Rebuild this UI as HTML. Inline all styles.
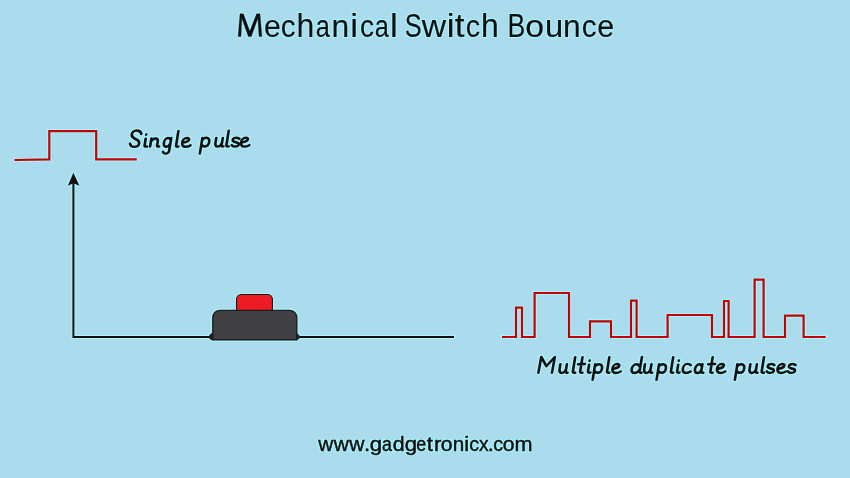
<!DOCTYPE html>
<html><head><meta charset="utf-8">
<style>
html,body{margin:0;padding:0;background:#ABDCEE;}
body{width:850px;height:478px;overflow:hidden;position:relative;}
svg{position:absolute;left:0;top:0;display:block;}
</style></head>
<body>
<svg width="850" height="478" viewBox="0 0 850 478">
<defs><filter id="halo" x="-5%" y="-20%" width="110%" height="140%" color-interpolation-filters="sRGB"><feMorphology in="SourceAlpha" operator="dilate" radius="1.2" result="d"/><feGaussianBlur in="d" stdDeviation="0.35" result="b"/><feFlood flood-color="#A8F8FF" flood-opacity="0.9"/><feComposite in2="b" operator="in" result="h"/><feMerge><feMergeNode in="h"/><feMergeNode in="SourceGraphic"/></feMerge></filter></defs>
<rect width="850" height="478" fill="#ABDCEE"/>
<g filter="url(#halo)">
<!-- title -->
<g font-family="Liberation Sans" font-size="32.5" fill="#0E0E0E" stroke="#0E0E0E" stroke-width="0.15">
<path d="M238.1 36.6 L240.0 13.8 L243.4 13.8 L249.8 31.2 L256.6 13.8 L260.0 13.8 L261.9 36.6 L259.0 36.6 L257.9 18.2 L251.3 36.6 L248.3 36.6 L241.8 18.2 L241.0 36.6 Z" stroke-width="0.3"/>
<text transform="translate(272.40 36.6) scale(0.931 0.95)" x="-9.01" y="0">e</text>
<text transform="translate(288.50 36.6) scale(0.913 0.95)" x="-8.39" y="0">c</text>
<text transform="translate(305.55 36.6) scale(0.985 1)" x="-9.11" y="0">h</text>
<text transform="translate(323.35 36.6) scale(0.780 0.95)" x="-9.73" y="0">a</text>
<text transform="translate(340.35 36.6) scale(0.978 0.95)" x="-9.06" y="0">n</text>
<text transform="translate(354.15 36.6) scale(1.080 1)" x="-3.60" y="0">i</text>
<text transform="translate(367.35 36.6) scale(0.864 0.95)" x="-8.39" y="0">c</text>
<text transform="translate(382.25 36.6) scale(0.780 0.95)" x="-9.73" y="0">a</text>
<text transform="translate(393.80 36.6) scale(1.080 1)" x="-3.62" y="0">l</text>
<text transform="translate(413.10 36.6) scale(0.780 1)" x="-10.83" y="0">S</text>
<text transform="translate(433.85 36.6) scale(1.038 0.95)" x="-11.75" y="0">w</text>
<text transform="translate(450.70 36.6) scale(1.080 1)" x="-3.60" y="0">i</text>
<text transform="translate(459.80 36.6) scale(1.080 1)" x="-4.64" y="0">t</text>
<text transform="translate(473.20 36.6) scale(0.885 0.95)" x="-8.39" y="0">c</text>
<text transform="translate(490.05 36.6) scale(0.985 1)" x="-9.11" y="0">h</text>
<text transform="translate(516.70 36.6) scale(0.821 1)" x="-11.31" y="0">B</text>
<text transform="translate(534.60 36.6) scale(1.043 0.95)" x="-9.04" y="0">o</text>
<text transform="translate(554.15 36.6) scale(1.007 0.95)" x="-9.01" y="0">u</text>
<text transform="translate(571.95 36.6) scale(0.978 0.95)" x="-9.06" y="0">n</text>
<text transform="translate(589.40 36.6) scale(0.913 0.95)" x="-8.39" y="0">c</text>
<text transform="translate(605.75 36.6) scale(0.938 0.95)" x="-9.01" y="0">e</text>
</g>
<!-- single pulse -->
<path d="M14.5 160 L49.3 159.3 L49.3 131.1 L96.2 131.1 L96.2 159.3 L136.8 159.3" fill="none" stroke="#C40000" stroke-width="2.2"/>
<!-- axis -->
<path d="M73.4 337 L73.4 182 M72.4 337 L454 337" fill="none" stroke="#140E0E" stroke-width="2"/>
<path d="M73.4 172.8 L79.4 185.8 L73.4 183.2 L67.8 185.8 Z" fill="#140E0E"/>
<!-- button -->
<rect x="236.5" y="294.5" width="35.9" height="22" rx="4.6" fill="#ED1C24" stroke="#141414" stroke-width="1.1"/>
<path d="M212.8 339.7 L212.8 318.4 Q212.8 310.4 220.8 310.4 L288.8 310.4 Q296.8 310.4 296.8 318.4 L296.8 339.7 Z" fill="#414042" stroke="#1E1A1B" stroke-width="1.4"/>
<path d="M213.2 332.8 C210.6 333.3 208.9 335 208.9 336.8 C208.9 338.8 210.6 340.4 213.2 340.4 Z" fill="#231F20"/>
<path d="M296.4 332.6 C298 334 299.8 335.5 300.2 336.8 C299.8 338.3 298.2 340 296.4 340.4 Z" fill="#231F20"/>
<!-- multi pulse -->
<path d="M502 337 L516 337 L516 307.6 L522 307.6 L522 337 L534.6 337 L534.6 293 L569 293 L569 337 L590 337 L590 321.4 L611 321.4 L611 337 L631 337 L631 300.6 L636.6 300.6 L636.6 337 L667.6 337 L667.6 315 L712 315 L712 337 L724 337 L724 301 L728.6 301 L728.6 337 L754.6 337 L754.6 279.6 L763.6 279.6 L763.6 337 L785 337 L785 315.6 L803.6 315.6 L803.6 337 L825.6 337" fill="none" stroke="#C40000" stroke-width="2.2"/>
<!-- labels -->
<g fill="none" stroke="#0F0F0F" stroke-width="2.6" stroke-linecap="round" stroke-linejoin="round">
<path transform="translate(129.5 146.6) skewX(-9.1) scale(1 0.95)" d="M9.8 -13.3 C9 -15.6 7 -16.9 4.6 -16.9 C2 -16.9 0.2 -15 0.3 -12.6 C0.4 -10 2.8 -9 4.8 -8 C7.5 -6.8 9.2 -5.5 9.1 -3.3 C9 -0.9 7 0.3 4.6 0.3 C2.3 0.3 0.7 -1.3 0 -3.2"/>
<path transform="translate(144.4 146.6) skewX(-9.1) scale(1 0.95)" d="M-0.1 -12.8 L-0.05 -12.6 M0 -8.4 L0 -1.5 C0 -0.2 0.8 0.3 2.6 -0.1"/>
<path transform="translate(150.1 146.6) skewX(-9.1) scale(1 0.95)" d="M0 -8.6 L0 0 M0 -5 C0.8 -7.3 2.3 -8.6 4 -8.6 C6 -8.6 6.9 -7.2 6.9 -5 L6.8 -1.5 C6.8 -0.2 7.6 0.2 9 -0.1"/>
<path transform="translate(163.3 146.6) skewX(-9.1) scale(1 0.95)" d="M6.2 -7.3 C5.6 -8.4 4.5 -9 3.3 -9 C1.2 -9 0 -6.5 0 -4 C0 -1.6 1.1 0.2 2.8 0.2 C4.5 0.2 5.8 -1.3 6.4 -3.2 M6.6 -9 L6.5 4.5 C6.5 6.4 5.3 7.4 3.6 7.4 C2.2 7.4 1 6.6 0.4 5.4"/>
<path transform="translate(175.9 146.6) skewX(-9.1) scale(1 0.95)" d="M0 -16.4 L0 -1.5 C0 -0.2 0.8 0.3 2.4 0"/>
<path transform="translate(181.6 146.6) skewX(-9.1) scale(1 0.95)" d="M0.2 -3.9 C2.6 -4.3 5 -5 6.1 -6.4 C7 -7.6 5.8 -9.1 3.8 -9.1 C1.5 -9.1 0 -6.8 0 -4.3 C0 -1.5 1.5 0.2 3.9 0.2 C5.7 0.2 7.4 -0.4 8.7 -1.3"/>
<path transform="translate(201.0 146.4) skewX(-9.1) scale(1 0.95)" d="M0 -8.9 L0 7.4 M0.2 -6.5 C0.9 -8.2 2.4 -9 4 -9 C6.3 -9 7.5 -7 7.5 -4.5 C7.5 -1.8 6 0 3.9 0 C2.4 0 1.1 -0.6 0.3 -1.8"/>
<path transform="translate(214.9 146.4) skewX(-9.1) scale(1 0.95)" d="M0 -8.9 L0 -3.5 C0 -1.2 1.1 0.2 2.8 0.2 C4.6 0.2 6 -1.5 6.4 -3.8 M6.5 -8.9 L6.5 -1.5 C6.5 -0.2 7.2 0.3 8.5 0"/>
<path transform="translate(226.2 146.4) skewX(-9.1) scale(1 0.95)" d="M0 -16.4 L0 -1.5 C0 -0.2 0.8 0.3 2.4 0"/>
<path transform="translate(231.5 146.4) skewX(-9.1) scale(1 0.95)" d="M6.7 -8.0 C5.8 -9 4.5 -9.3 3.2 -9.2 C1.2 -9.1 0 -8 0.2 -6.5 C0.5 -5 2.6 -4.6 4.5 -4.1 C6.3 -3.6 7.2 -2.8 7.0 -1.6 C6.8 -0.2 5.2 0.2 3.5 0.2 C1.9 0.2 0.6 -0.5 0 -1.4"/>
<path transform="translate(240.4 146.4) skewX(-9.1) scale(1 0.95)" d="M0.2 -3.9 C2.6 -4.3 5 -5 6.1 -6.4 C7 -7.6 5.8 -9.1 3.8 -9.1 C1.5 -9.1 0 -6.8 0 -4.3 C0 -1.5 1.5 0.2 3.9 0.2 C5.7 0.2 7.4 -0.4 8.7 -1.3"/>
<path transform="translate(538.4 372.7) skewX(-9.1) scale(1 0.95)" d="M0 0 L0.3 -16.6 L7.0 -6.9 L13.9 -16.6 L13.6 0"/>
<path transform="translate(559.0 372.7) skewX(-9.1) scale(1 0.95)" d="M0 -8.9 L0 -3.5 C0 -1.2 1.1 0.2 2.8 0.2 C4.6 0.2 6 -1.5 6.4 -3.8 M6.5 -8.9 L6.5 -1.5 C6.5 -0.2 7.2 0.3 8.5 0"/>
<path transform="translate(572.7 372.7) skewX(-9.1) scale(1 0.95)" d="M0 -16.4 L0 -1.5 C0 -0.2 0.8 0.3 2.4 0"/>
<path transform="translate(576.1 372.7) skewX(-9.1) scale(1 0.95)" d="M3.9 -16.4 L3.9 -1.5 C3.9 -0.2 4.7 0.3 6.3 0 M0.6 -9 L7.4 -9.2"/>
<path transform="translate(587.8 372.7) skewX(-9.1) scale(1 0.95)" d="M-0.1 -12.8 L-0.05 -12.6 M0 -8.4 L0 -1.5 C0 -0.2 0.8 0.3 2.6 -0.1"/>
<path transform="translate(593.8 372.7) skewX(-9.1) scale(1 0.95)" d="M0 -8.9 L0 7.4 M0.2 -6.5 C0.9 -8.2 2.4 -9 4 -9 C6.3 -9 7.5 -7 7.5 -4.5 C7.5 -1.8 6 0 3.9 0 C2.4 0 1.1 -0.6 0.3 -1.8"/>
<path transform="translate(606.85 372.7) skewX(-9.1) scale(1 0.95)" d="M0 -16.4 L0 -1.5 C0 -0.2 0.8 0.3 2.4 0"/>
<path transform="translate(611.8 372.7) skewX(-9.1) scale(1 0.95)" d="M0.2 -3.9 C2.6 -4.3 5 -5 6.1 -6.4 C7 -7.6 5.8 -9.1 3.8 -9.1 C1.5 -9.1 0 -6.8 0 -4.3 C0 -1.5 1.5 0.2 3.9 0.2 C5.7 0.2 7.4 -0.4 8.7 -1.3"/>
<path transform="translate(631.1 372.7) skewX(-9.1) scale(1 0.95)" d="M7.0 -7.2 C6.3 -8.3 5.1 -8.8 3.9 -8.8 C1.6 -8.8 0 -6.3 0 -3.8 C0 -1.4 1.3 0.3 3.4 0.3 C5.4 0.3 7.2 -1.3 8.1 -3.4 M8.3 -16.6 L8.2 -1.5 C8.2 -0.2 9.0 0.3 10.4 0"/>
<path transform="translate(643.6 372.7) skewX(-9.1) scale(1 0.95)" d="M0 -8.9 L0 -3.5 C0 -1.2 1.1 0.2 2.8 0.2 C4.6 0.2 6 -1.5 6.4 -3.8 M6.5 -8.9 L6.5 -1.5 C6.5 -0.2 7.2 0.3 8.5 0"/>
<path transform="translate(657.7 372.7) skewX(-9.1) scale(1 0.95)" d="M0 -8.9 L0 7.4 M0.2 -6.5 C0.9 -8.2 2.4 -9 4 -9 C6.3 -9 7.5 -7 7.5 -4.5 C7.5 -1.8 6 0 3.9 0 C2.4 0 1.1 -0.6 0.3 -1.8"/>
<path transform="translate(670.7 372.7) skewX(-9.1) scale(1 0.95)" d="M0 -16.4 L0 -1.5 C0 -0.2 0.8 0.3 2.4 0"/>
<path transform="translate(676.9 372.7) skewX(-9.1) scale(1 0.95)" d="M-0.1 -12.8 L-0.05 -12.6 M0 -8.4 L0 -1.5 C0 -0.2 0.8 0.3 2.6 -0.1"/>
<path transform="translate(682.2 372.7) skewX(-9.1) scale(1 0.95)" d="M7.3 -8.0 C6.5 -8.9 5.1 -9.3 3.7 -9.3 C1.4 -9.3 0 -6.8 0 -4.1 C0 -1.4 1.7 0.3 4.1 0.3 C5.8 0.3 7.2 -0.4 8.2 -1.2"/>
<path transform="translate(694.4 372.7) skewX(-9.1) scale(1 0.95)" d="M6.0 -7.2 C5.4 -8.3 4.5 -8.8 3.5 -8.8 C1.4 -8.8 0 -6.3 0 -3.8 C0 -1.4 1.2 0.3 3.1 0.3 C4.8 0.3 6.2 -1.3 6.6 -3.4 M6.7 -8.9 L6.6 -1.5 C6.6 -0.2 7.4 0.3 8.9 0"/>
<path transform="translate(706.3 372.7) skewX(-9.1) scale(1 0.95)" d="M3.9 -16.4 L3.9 -1.5 C3.9 -0.2 4.7 0.3 6.3 0 M0.6 -9 L7.4 -9.2"/>
<path transform="translate(716.4 372.7) skewX(-9.1) scale(1 0.95)" d="M0.2 -3.9 C2.6 -4.3 5 -5 6.1 -6.4 C7 -7.6 5.8 -9.1 3.8 -9.1 C1.5 -9.1 0 -6.8 0 -4.3 C0 -1.5 1.5 0.2 3.9 0.2 C5.7 0.2 7.4 -0.4 8.7 -1.3"/>
<path transform="translate(736.0 372.7) skewX(-9.1) scale(1 0.95)" d="M0 -8.9 L0 7.4 M0.2 -6.5 C0.9 -8.2 2.4 -9 4 -9 C6.3 -9 7.5 -7 7.5 -4.5 C7.5 -1.8 6 0 3.9 0 C2.4 0 1.1 -0.6 0.3 -1.8"/>
<path transform="translate(749.0 372.7) skewX(-9.1) scale(1 0.95)" d="M0 -8.9 L0 -3.5 C0 -1.2 1.1 0.2 2.8 0.2 C4.6 0.2 6 -1.5 6.4 -3.8 M6.5 -8.9 L6.5 -1.5 C6.5 -0.2 7.2 0.3 8.5 0"/>
<path transform="translate(761.5 372.7) skewX(-9.1) scale(1 0.95)" d="M0 -16.4 L0 -1.5 C0 -0.2 0.8 0.3 2.4 0"/>
<path transform="translate(766.5 372.7) skewX(-9.1) scale(1 0.95)" d="M6.7 -8.0 C5.8 -9 4.5 -9.3 3.2 -9.2 C1.2 -9.1 0 -8 0.2 -6.5 C0.5 -5 2.6 -4.6 4.5 -4.1 C6.3 -3.6 7.2 -2.8 7.0 -1.6 C6.8 -0.2 5.2 0.2 3.5 0.2 C1.9 0.2 0.6 -0.5 0 -1.4"/>
<path transform="translate(776.9 372.7) skewX(-9.1) scale(1 0.95)" d="M0.2 -3.9 C2.6 -4.3 5 -5 6.1 -6.4 C7 -7.6 5.8 -9.1 3.8 -9.1 C1.5 -9.1 0 -6.8 0 -4.3 C0 -1.5 1.5 0.2 3.9 0.2 C5.7 0.2 7.4 -0.4 8.7 -1.3"/>
<path transform="translate(787.7 372.7) skewX(-9.1) scale(1 0.95)" d="M6.7 -8.0 C5.8 -9 4.5 -9.3 3.2 -9.2 C1.2 -9.1 0 -8 0.2 -6.5 C0.5 -5 2.6 -4.6 4.5 -4.1 C6.3 -3.6 7.2 -2.8 7.0 -1.6 C6.8 -0.2 5.2 0.2 3.5 0.2 C1.9 0.2 0.6 -0.5 0 -1.4"/>
</g>
<g font-family="Liberation Sans" font-size="20.6" fill="#0E0E0E" stroke="#0E0E0E" stroke-width="0.45">
<text transform="translate(325.85 450.6) scale(1.010 1)" x="-7.45" y="0">w</text>
<text transform="translate(341.20 450.6) scale(1.016 1)" x="-7.45" y="0">w</text>
<text transform="translate(356.85 450.6) scale(1.023 1)" x="-7.45" y="0">w</text>
<text transform="translate(367.15 450.6) scale(1.080 1)" x="-2.86" y="0">.</text>
<text transform="translate(375.60 450.6) scale(1.080 1)" x="-5.50" y="0">g</text>
<text transform="translate(387.30 450.6) scale(0.869 1)" x="-6.17" y="0">a</text>
<text transform="translate(398.50 450.6) scale(1.036 1)" x="-5.50" y="0">d</text>
<text transform="translate(410.75 450.6) scale(1.080 1)" x="-5.50" y="0">g</text>
<text transform="translate(421.20 450.6) scale(0.869 1)" x="-5.71" y="0">e</text>
<text transform="translate(429.80 450.6) scale(1.080 1)" x="-2.94" y="0">t</text>
<text transform="translate(438.15 450.6) scale(1.080 1)" x="-3.94" y="0">r</text>
<text transform="translate(446.70 450.6) scale(1.028 1)" x="-5.73" y="0">o</text>
<text transform="translate(458.60 450.6) scale(1.006 1)" x="-5.74" y="0">n</text>
<text transform="translate(466.65 450.6) scale(1.080 1)" x="-2.28" y="0">i</text>
<text transform="translate(474.45 450.6) scale(0.957 1)" x="-5.32" y="0">c</text>
<text transform="translate(483.70 450.6) scale(0.934 1)" x="-5.16" y="0">x</text>
<text transform="translate(490.95 450.6) scale(1.080 1)" x="-2.86" y="0">.</text>
<text transform="translate(498.25 450.6) scale(0.957 1)" x="-5.32" y="0">c</text>
<text transform="translate(508.70 450.6) scale(1.028 1)" x="-5.73" y="0">o</text>
<text transform="translate(523.60 450.6) scale(1.053 1)" x="-8.59" y="0">m</text>
</g>
</g>
</svg>
</body></html>
